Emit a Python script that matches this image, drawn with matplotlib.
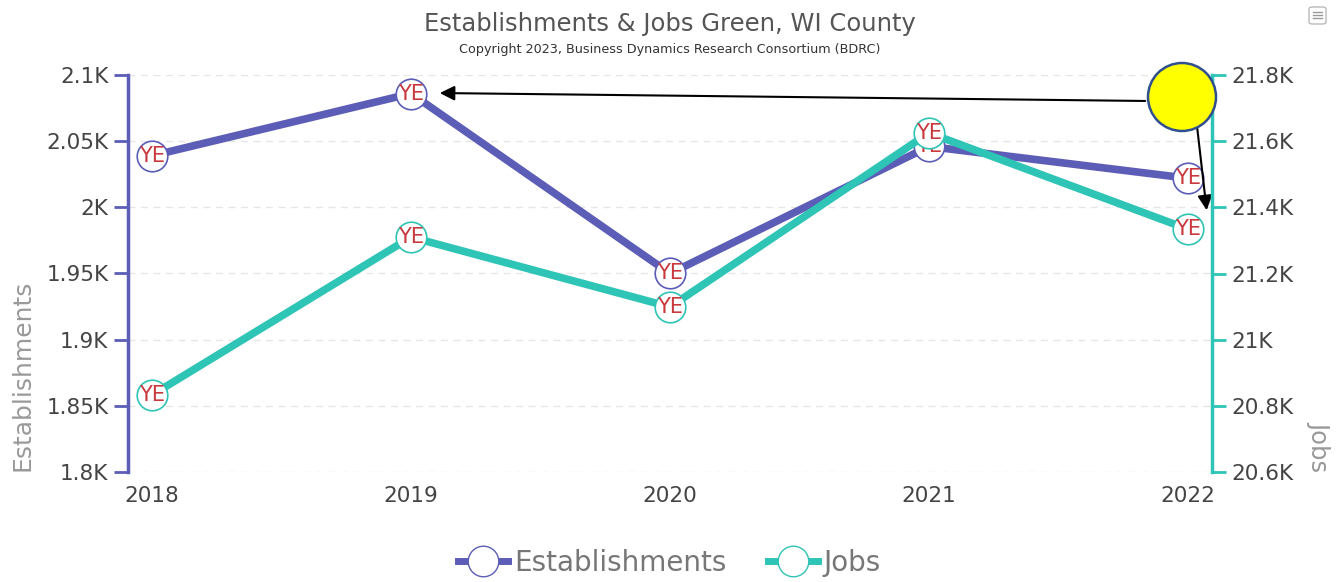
import matplotlib.pyplot as plt
from matplotlib.patches import Ellipse, FancyBboxPatch
from matplotlib.lines import Line2D

plt.rcParams['font.family'] = ['DejaVu Sans']

# Data
years = [2018, 2019, 2020, 2021, 2022]
establishments = [2039, 2086, 1950, 2046, 2022]
jobs = [20833, 21310, 21099, 21625, 21334]

est_ticks = [1800, 1850, 1900, 1950, 2000, 2050, 2100]
est_labels = ['1.8K', '1.85K', '1.9K', '1.95K', '2K', '2.05K', '2.1K']
job_ticks = [20600, 20800, 21000, 21200, 21400, 21600, 21800]
job_labels = ['20.6K', '20.8K', '21K', '21.2K', '21.4K', '21.6K', '21.8K']

est_color = '#5c5db6'
job_color = '#2ec4b6'
text_color = '#555555'
ye_color = '#c8383c'

W, H = 1339, 582
fig = plt.figure(figsize=(13.39, 5.82), dpi=100)
ax = fig.add_axes([128 / W, 1 - 472 / H, (1212 - 128) / W, (472 - 75) / H])
ax2 = ax.twinx()

ax.plot(years, establishments, color=est_color, lw=5.5, zorder=3,
        marker='o', ms=22, mfc='white', mec=est_color, mew=1.2)
ax2.plot(years, jobs, color=job_color, lw=5.5, zorder=3,
         marker='o', ms=22, mfc='white', mec=job_color, mew=1.2)

ye_font = dict(fontsize=15, color=ye_color, ha='center', va='center', zorder=5)
for x, y in zip(years, establishments):
    ax.text(x, y, 'YE', **ye_font)
for x, y in zip(years, jobs):
    ax2.text(x, y, 'YE', **ye_font)

ax.set_xlim(2017.907, 2022.093)
ax.set_ylim(1800, 2100)
ax2.set_ylim(20600, 21800)
ax.set_xticks(years)
ax.set_xticklabels([str(y) for y in years], fontsize=15.5, color='#444444')
ax.set_yticks(est_ticks)
ax.set_yticklabels(est_labels, fontsize=15.5, color='#444444')
ax2.set_yticks(job_ticks)
ax2.set_yticklabels(job_labels, fontsize=15.5, color='#444444')

ax.grid(axis='y', color='#e6e6e6', ls=(0, (5, 4)), lw=1)
ax.set_axisbelow(True)
for a in (ax, ax2):
    for s in ('top', 'bottom'):
        a.spines[s].set_visible(False)
ax.spines['right'].set_visible(False)
ax2.spines['left'].set_visible(False)
ax.spines['left'].set_color(est_color)
ax.spines['left'].set_linewidth(2.5)
ax2.spines['right'].set_color(job_color)
ax2.spines['right'].set_linewidth(2.5)
ax.tick_params(axis='y', colors=est_color, length=10, width=2, pad=4, labelcolor='#444444')
ax2.tick_params(axis='y', colors=job_color, length=10, width=2, pad=4, labelcolor='#444444')
ax.tick_params(axis='x', length=0, pad=10)

fig.text(0.017, 1 - 471 / H, 'Establishments', rotation=90, fontsize=18, color='#999999',
         ha='center', va='bottom')
fig.text(0.985, 1 - 471 / H, 'Jobs', rotation=-90, fontsize=17.5, color='#999999',
         ha='center', va='bottom')

fig.text(0.5, 1 - 24 / H, 'Establishments & Jobs Green, WI County', fontsize=17.5,
         color=text_color, ha='center', va='center')
fig.text(0.5, 1 - 50 / H, 'Copyright 2023, Business Dynamics Research Consortium (BDRC)',
         fontsize=9.2, color='#333333', ha='center', va='center')

# Highlight circle and arrows
circ = Ellipse((1182 / W, 1 - 97 / H), 68 / W, 68 / H, transform=fig.transFigure,
               facecolor='#ffff00', edgecolor='#2f4f8f', lw=1.8, zorder=10)
fig.patches.append(circ)
ax.annotate('', xy=(437 / W, 1 - 93 / H), xycoords='figure fraction',
            xytext=(1148 / W, 1 - 101 / H), textcoords='figure fraction',
            arrowprops=dict(arrowstyle='-|>', color='black', lw=1.5, mutation_scale=22),
            zorder=11, annotation_clip=False)
ax.annotate('', xy=(1207 / W, 1 - 213 / H), xycoords='figure fraction',
            xytext=(1197 / W, 1 - 126 / H), textcoords='figure fraction',
            arrowprops=dict(arrowstyle='-|>', color='black', lw=1.5, mutation_scale=22),
            zorder=11, annotation_clip=False)

# Legend
handles = [Line2D([], [], color=est_color, lw=5, marker='o', ms=22, mfc='white', mec=est_color),
           Line2D([], [], color=job_color, lw=5, marker='o', ms=22, mfc='white', mec=job_color)]
fig.legend(handles, ['Establishments', 'Jobs'], loc='center', bbox_to_anchor=(0.5, 1 - 563 / H),
           ncol=2, frameon=False, fontsize=20, labelcolor='#777777', handlelength=1.8,
           columnspacing=1.5, handletextpad=0.2)

# Menu icon
icon = FancyBboxPatch((1309 / W, 1 - 24 / H), 17 / W, 17 / H,
                      boxstyle='round,pad=0,rounding_size=0.003', transform=fig.transFigure,
                      facecolor='white', edgecolor='#bbbbbb', lw=1)
fig.patches.append(icon)
for yy in (12, 15, 18):
    fig.add_artist(Line2D([1313 / W, 1322 / W], [1 - yy / H, 1 - yy / H],
                          color='#999999', lw=1, transform=fig.transFigure))

fig.savefig('out.png', dpi=100)
